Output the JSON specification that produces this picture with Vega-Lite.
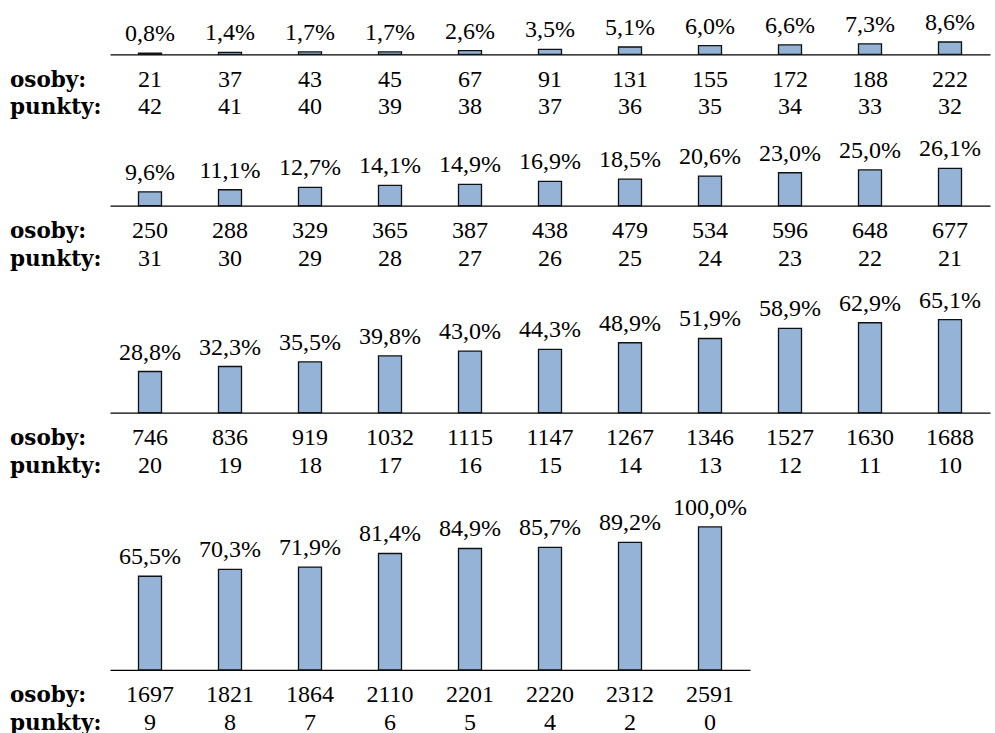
{
  "$schema": "https://vega.github.io/schema/vega-lite/v6.json",
  "padding": {"top": 11, "left": 10, "right": 5, "bottom": 0},
  "bounds": "flush",
  "spacing": 113.3,
  "config": {
    "font": "Liberation Serif",
    "view": {"stroke": null},
    "axis": {"grid": false}
  },
  "data": {"values": [
    {"punkty": 42, "osoby": 21, "pct": 0.008, "procent": "0,8%"},
    {"punkty": 41, "osoby": 37, "pct": 0.014, "procent": "1,4%"},
    {"punkty": 40, "osoby": 43, "pct": 0.017, "procent": "1,7%"},
    {"punkty": 39, "osoby": 45, "pct": 0.017, "procent": "1,7%"},
    {"punkty": 38, "osoby": 67, "pct": 0.026, "procent": "2,6%"},
    {"punkty": 37, "osoby": 91, "pct": 0.035, "procent": "3,5%"},
    {"punkty": 36, "osoby": 131, "pct": 0.051, "procent": "5,1%"},
    {"punkty": 35, "osoby": 155, "pct": 0.060, "procent": "6,0%"},
    {"punkty": 34, "osoby": 172, "pct": 0.066, "procent": "6,6%"},
    {"punkty": 33, "osoby": 188, "pct": 0.073, "procent": "7,3%"},
    {"punkty": 32, "osoby": 222, "pct": 0.086, "procent": "8,6%"},
    {"punkty": 31, "osoby": 250, "pct": 0.096, "procent": "9,6%"},
    {"punkty": 30, "osoby": 288, "pct": 0.111, "procent": "11,1%"},
    {"punkty": 29, "osoby": 329, "pct": 0.127, "procent": "12,7%"},
    {"punkty": 28, "osoby": 365, "pct": 0.141, "procent": "14,1%"},
    {"punkty": 27, "osoby": 387, "pct": 0.149, "procent": "14,9%"},
    {"punkty": 26, "osoby": 438, "pct": 0.169, "procent": "16,9%"},
    {"punkty": 25, "osoby": 479, "pct": 0.185, "procent": "18,5%"},
    {"punkty": 24, "osoby": 534, "pct": 0.206, "procent": "20,6%"},
    {"punkty": 23, "osoby": 596, "pct": 0.230, "procent": "23,0%"},
    {"punkty": 22, "osoby": 648, "pct": 0.250, "procent": "25,0%"},
    {"punkty": 21, "osoby": 677, "pct": 0.261, "procent": "26,1%"},
    {"punkty": 20, "osoby": 746, "pct": 0.288, "procent": "28,8%"},
    {"punkty": 19, "osoby": 836, "pct": 0.323, "procent": "32,3%"},
    {"punkty": 18, "osoby": 919, "pct": 0.355, "procent": "35,5%"},
    {"punkty": 17, "osoby": 1032, "pct": 0.398, "procent": "39,8%"},
    {"punkty": 16, "osoby": 1115, "pct": 0.430, "procent": "43,0%"},
    {"punkty": 15, "osoby": 1147, "pct": 0.443, "procent": "44,3%"},
    {"punkty": 14, "osoby": 1267, "pct": 0.489, "procent": "48,9%"},
    {"punkty": 13, "osoby": 1346, "pct": 0.519, "procent": "51,9%"},
    {"punkty": 12, "osoby": 1527, "pct": 0.589, "procent": "58,9%"},
    {"punkty": 11, "osoby": 1630, "pct": 0.629, "procent": "62,9%"},
    {"punkty": 10, "osoby": 1688, "pct": 0.651, "procent": "65,1%"},
    {"punkty": 9, "osoby": 1697, "pct": 0.655, "procent": "65,5%"},
    {"punkty": 8, "osoby": 1821, "pct": 0.703, "procent": "70,3%"},
    {"punkty": 7, "osoby": 1864, "pct": 0.719, "procent": "71,9%"},
    {"punkty": 6, "osoby": 2110, "pct": 0.814, "procent": "81,4%"},
    {"punkty": 5, "osoby": 2201, "pct": 0.849, "procent": "84,9%"},
    {"punkty": 4, "osoby": 2220, "pct": 0.857, "procent": "85,7%"},
    {"punkty": 2, "osoby": 2312, "pct": 0.892, "procent": "89,2%"},
    {"punkty": 0, "osoby": 2591, "pct": 1.000, "procent": "100,0%"}
  ]},
  "vconcat": [
    {
      "transform": [{"filter": {"field": "punkty", "range": [32, 42]}}],
      "width": {"step": 80},
      "height": 12.3,
      "encoding": {
        "x": {"field": "punkty", "type": "ordinal", "sort": "descending", "scale": {"paddingInner": 0, "paddingOuter": 0}, "axis": {"labels": false, "ticks": false, "title": null, "domain": true, "domainColor": "black", "domainWidth": 1.3}}
      },
      "layer": [
        {"mark": {"type": "bar", "width": {"band": 0.2875}, "fill": "#95B3D7", "stroke": "#111111", "strokeWidth": 1.3}, "encoding": {"y": {"field": "pct", "type": "quantitative", "scale": {"domain": [0, 0.086], "nice": false}, "axis": null}}},
        {"mark": {"type": "text", "font": "Liberation Serif", "fontSize": 24, "color": "black", "baseline": "alphabetic", "dy": -12}, "encoding": {"y": {"field": "pct", "type": "quantitative"}, "text": {"field": "procent", "type": "nominal"}}},
        {"mark": {"type": "text", "font": "Liberation Serif", "fontSize": 24, "color": "black", "baseline": "alphabetic", "dy": 32.5}, "encoding": {"y": {"datum": 0}, "text": {"field": "osoby", "type": "nominal"}}},
        {"mark": {"type": "text", "font": "Liberation Serif", "fontSize": 24, "color": "black", "baseline": "alphabetic", "dy": 60}, "encoding": {"y": {"datum": 0}, "text": {"field": "punkty", "type": "nominal"}}},
        {"transform": [{"filter": {"field": "punkty", "equal": 42}}], "mark": {"type": "text", "baseline": "alphabetic", "align": "left", "dx": -140, "dy": 32.5, "font": "DejaVu Serif", "fontWeight": "bold", "fontSize": 21.5, "color": "black"}, "encoding": {"y": {"datum": 0}, "text": {"value": "osoby:"}}},
        {"transform": [{"filter": {"field": "punkty", "equal": 42}}], "mark": {"type": "text", "baseline": "alphabetic", "align": "left", "dx": -140, "dy": 60, "font": "DejaVu Serif", "fontWeight": "bold", "fontSize": 21.5, "color": "black"}, "encoding": {"y": {"datum": 0}, "text": {"value": "punkty:"}}}
      ]
    },
    {
      "transform": [{"filter": {"field": "punkty", "range": [21, 31]}}],
      "width": {"step": 80},
      "height": 37.3,
      "encoding": {
        "x": {"field": "punkty", "type": "ordinal", "sort": "descending", "scale": {"paddingInner": 0, "paddingOuter": 0}, "axis": {"labels": false, "ticks": false, "title": null, "domain": true, "domainColor": "black", "domainWidth": 1.3}}
      },
      "layer": [
        {"mark": {"type": "bar", "width": {"band": 0.2875}, "fill": "#95B3D7", "stroke": "#111111", "strokeWidth": 1.3}, "encoding": {"y": {"field": "pct", "type": "quantitative", "scale": {"domain": [0, 0.261], "nice": false}, "axis": null}}},
        {"mark": {"type": "text", "font": "Liberation Serif", "fontSize": 24, "color": "black", "baseline": "alphabetic", "dy": -12}, "encoding": {"y": {"field": "pct", "type": "quantitative"}, "text": {"field": "procent", "type": "nominal"}}},
        {"mark": {"type": "text", "font": "Liberation Serif", "fontSize": 24, "color": "black", "baseline": "alphabetic", "dy": 32.5}, "encoding": {"y": {"datum": 0}, "text": {"field": "osoby", "type": "nominal"}}},
        {"mark": {"type": "text", "font": "Liberation Serif", "fontSize": 24, "color": "black", "baseline": "alphabetic", "dy": 60}, "encoding": {"y": {"datum": 0}, "text": {"field": "punkty", "type": "nominal"}}},
        {"transform": [{"filter": {"field": "punkty", "equal": 31}}], "mark": {"type": "text", "baseline": "alphabetic", "align": "left", "dx": -140, "dy": 32.5, "font": "DejaVu Serif", "fontWeight": "bold", "fontSize": 21.5, "color": "black"}, "encoding": {"y": {"datum": 0}, "text": {"value": "osoby:"}}},
        {"transform": [{"filter": {"field": "punkty", "equal": 31}}], "mark": {"type": "text", "baseline": "alphabetic", "align": "left", "dx": -140, "dy": 60, "font": "DejaVu Serif", "fontWeight": "bold", "fontSize": 21.5, "color": "black"}, "encoding": {"y": {"datum": 0}, "text": {"value": "punkty:"}}}
      ]
    },
    {
      "transform": [{"filter": {"field": "punkty", "range": [10, 20]}}],
      "width": {"step": 80},
      "height": 93.1,
      "encoding": {
        "x": {"field": "punkty", "type": "ordinal", "sort": "descending", "scale": {"paddingInner": 0, "paddingOuter": 0}, "axis": {"labels": false, "ticks": false, "title": null, "domain": true, "domainColor": "black", "domainWidth": 1.3}}
      },
      "layer": [
        {"mark": {"type": "bar", "width": {"band": 0.2875}, "fill": "#95B3D7", "stroke": "#111111", "strokeWidth": 1.3}, "encoding": {"y": {"field": "pct", "type": "quantitative", "scale": {"domain": [0, 0.651], "nice": false}, "axis": null}}},
        {"mark": {"type": "text", "font": "Liberation Serif", "fontSize": 24, "color": "black", "baseline": "alphabetic", "dy": -12}, "encoding": {"y": {"field": "pct", "type": "quantitative"}, "text": {"field": "procent", "type": "nominal"}}},
        {"mark": {"type": "text", "font": "Liberation Serif", "fontSize": 24, "color": "black", "baseline": "alphabetic", "dy": 32.5}, "encoding": {"y": {"datum": 0}, "text": {"field": "osoby", "type": "nominal"}}},
        {"mark": {"type": "text", "font": "Liberation Serif", "fontSize": 24, "color": "black", "baseline": "alphabetic", "dy": 60}, "encoding": {"y": {"datum": 0}, "text": {"field": "punkty", "type": "nominal"}}},
        {"transform": [{"filter": {"field": "punkty", "equal": 20}}], "mark": {"type": "text", "baseline": "alphabetic", "align": "left", "dx": -140, "dy": 32.5, "font": "DejaVu Serif", "fontWeight": "bold", "fontSize": 21.5, "color": "black"}, "encoding": {"y": {"datum": 0}, "text": {"value": "osoby:"}}},
        {"transform": [{"filter": {"field": "punkty", "equal": 20}}], "mark": {"type": "text", "baseline": "alphabetic", "align": "left", "dx": -140, "dy": 60, "font": "DejaVu Serif", "fontWeight": "bold", "fontSize": 21.5, "color": "black"}, "encoding": {"y": {"datum": 0}, "text": {"value": "punkty:"}}}
      ]
    },
    {
      "transform": [{"filter": {"field": "punkty", "range": [0, 9]}}],
      "width": {"step": 80},
      "height": 143,
      "encoding": {
        "x": {"field": "punkty", "type": "ordinal", "sort": "descending", "scale": {"paddingInner": 0, "paddingOuter": 0}, "axis": {"labels": false, "ticks": false, "title": null, "domain": true, "domainColor": "black", "domainWidth": 1.3}}
      },
      "layer": [
        {"mark": {"type": "bar", "width": {"band": 0.2875}, "fill": "#95B3D7", "stroke": "#111111", "strokeWidth": 1.3}, "encoding": {"y": {"field": "pct", "type": "quantitative", "scale": {"domain": [0, 1], "nice": false}, "axis": null}}},
        {"mark": {"type": "text", "font": "Liberation Serif", "fontSize": 24, "color": "black", "baseline": "alphabetic", "dy": -12}, "encoding": {"y": {"field": "pct", "type": "quantitative"}, "text": {"field": "procent", "type": "nominal"}}},
        {"mark": {"type": "text", "font": "Liberation Serif", "fontSize": 24, "color": "black", "baseline": "alphabetic", "dy": 32.5}, "encoding": {"y": {"datum": 0}, "text": {"field": "osoby", "type": "nominal"}}},
        {"mark": {"type": "text", "font": "Liberation Serif", "fontSize": 24, "color": "black", "baseline": "alphabetic", "dy": 60}, "encoding": {"y": {"datum": 0}, "text": {"field": "punkty", "type": "nominal"}}},
        {"transform": [{"filter": {"field": "punkty", "equal": 9}}], "mark": {"type": "text", "baseline": "alphabetic", "align": "left", "dx": -140, "dy": 32.5, "font": "DejaVu Serif", "fontWeight": "bold", "fontSize": 21.5, "color": "black"}, "encoding": {"y": {"datum": 0}, "text": {"value": "osoby:"}}},
        {"transform": [{"filter": {"field": "punkty", "equal": 9}}], "mark": {"type": "text", "baseline": "alphabetic", "align": "left", "dx": -140, "dy": 60, "font": "DejaVu Serif", "fontWeight": "bold", "fontSize": 21.5, "color": "black"}, "encoding": {"y": {"datum": 0}, "text": {"value": "punkty:"}}}
      ]
    }
  ]
}
